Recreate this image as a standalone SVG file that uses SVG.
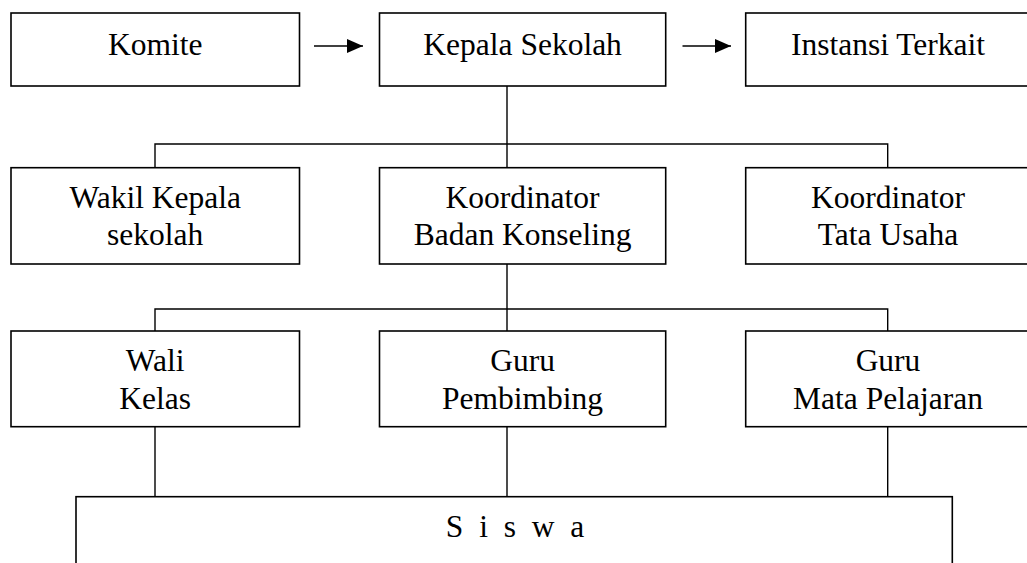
<svg xmlns="http://www.w3.org/2000/svg" width="1027" height="563" viewBox="0 0 1027 563">
<style>
.box{fill:#fff;stroke:#000;stroke-width:1.6}
.lbl{font-family:"Liberation Serif","Times New Roman",serif;font-size:31.5px;fill:#000;text-anchor:middle}
.con{fill:none;stroke:#000;stroke-width:1.4}
</style>
<defs>
<marker id="ah" markerWidth="16" markerHeight="14" refX="16" refY="7" orient="auto" markerUnits="userSpaceOnUse">
<path d="M0,0 L16,7 L0,14 Z" fill="#000"/>
</marker>
</defs>
<rect width="1027" height="563" fill="#fff"/>
<g id="connectors">
<line class="con" x1="314" y1="46" x2="363" y2="46" stroke-width="2" marker-end="url(#ah)"/>
<line class="con" x1="682.5" y1="46" x2="731" y2="46" stroke-width="2" marker-end="url(#ah)"/>
<path class="con" d="M507,86 V167.7 M155,167.7 V144 H887.7 V167.7"/>
<path class="con" d="M507,264 V331 M155,331 V309 H887.7 V331"/>
<path class="con" d="M155,426.7 V496.7 M507,426.7 V496.7 M887.7,426.7 V496.7"/>
</g>
<g id="komite"><rect class="box" x="11" y="13" width="288.5" height="73"/><text class="lbl" x="155.2" y="55">Komite</text></g>
<g id="kepala-sekolah"><rect class="box" x="379.5" y="13" width="286.2" height="73"/><text class="lbl" x="522.6" y="55">Kepala Sekolah</text></g>
<g id="instansi-terkait"><rect class="box" x="745.7" y="13" width="286" height="73"/><text class="lbl" x="888" y="55">Instansi Terkait</text></g>
<g id="wakil-kepala"><rect class="box" x="11" y="167.7" width="288.5" height="96.3"/><text class="lbl" x="155.2" y="207.5">Wakil Kepala</text><text class="lbl" x="155.2" y="245">sekolah</text></g>
<g id="koordinator-bk"><rect class="box" x="379.5" y="167.7" width="286.2" height="96.3"/><text class="lbl" x="522.6" y="207.5">Koordinator</text><text class="lbl" x="522.6" y="245">Badan Konseling</text></g>
<g id="koordinator-tu"><rect class="box" x="745.7" y="167.7" width="286" height="96.3"/><text class="lbl" x="888" y="207.5">Koordinator</text><text class="lbl" x="888" y="245">Tata Usaha</text></g>
<g id="wali-kelas"><rect class="box" x="11" y="331" width="288.5" height="95.7"/><text class="lbl" x="155.2" y="371">Wali</text><text class="lbl" x="155.2" y="409">Kelas</text></g>
<g id="guru-pembimbing"><rect class="box" x="379.5" y="331" width="286.2" height="95.7"/><text class="lbl" x="522.6" y="371">Guru</text><text class="lbl" x="522.6" y="409">Pembimbing</text></g>
<g id="guru-mapel"><rect class="box" x="745.7" y="331" width="286" height="95.7"/><text class="lbl" x="888" y="371">Guru</text><text class="lbl" x="888" y="409">Mata Pelajaran</text></g>
<g id="siswa"><rect class="box" x="76" y="496.7" width="876.3" height="80"/><text class="lbl" x="515" y="537" xml:space="preserve" style="white-space:pre">S  i  s  w  a</text></g>
</svg>
